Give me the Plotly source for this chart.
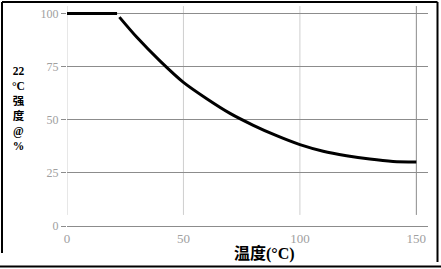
import plotly.graph_objects as go

# ---- data ----
temp_c = [0, 21.5, 22.5, 30, 40, 50, 60, 70, 80, 90, 100, 110, 120, 130, 140, 150]
strength_pct = [100, 100, 98.3, 88.8, 77.6, 67.6, 59.9, 53.0, 47.4, 42.5, 38.3, 35.2, 33.1, 31.5, 30.4, 30.1]
x_ticks = [0, 50, 100, 150]
y_ticks = [0, 25, 50, 75, 100]
x_title = "温度(°C)"
y_title_lines = ["22", "°C", "强", "度", "@", "%"]

W, H = 441, 269
ML, MR, MT, MB = 67, 13, 5, 43
PW, PH = W - ML - MR, H - MT - MB


def px(x):
    return (x - ML) / PW


def py(y):
    return (H - MB - y) / PH


SERIF = "Liberation Serif, Times New Roman, Noto Sans CJK SC, serif"

fig = go.Figure()
# flat plateau, then the smooth decay curve
fig.add_trace(go.Scatter(x=temp_c[:2], y=strength_pct[:2], mode="lines",
                         line=dict(color="black", width=3), showlegend=False,
                         hoverinfo="skip"))
fig.add_trace(go.Scatter(x=temp_c[2:], y=strength_pct[2:], mode="lines",
                         line=dict(color="black", width=3, shape="spline", smoothing=0.8),
                         showlegend=False, hoverinfo="skip"))

shapes = []
# vertical grid lines (do not reach the bottom axis)
for xv in x_ticks:
    col = "#8c8c8c" if xv == x_ticks[-1] else "#cfcfcf"
    shapes.append(dict(type="line", xref="x", yref="y", x0=xv, x1=xv, y0=5.2, y1=103.5,
                       line=dict(color=col, width=1), layer="below"))
# outer frame
frame = dict(color="black", width=2)
shapes += [
    dict(type="line", xref="paper", yref="paper", x0=px(2), x1=px(2), y0=py(2), y1=py(253), line=frame),
    dict(type="line", xref="paper", yref="paper", x0=px(2), x1=px(437.5), y0=py(2), y1=py(2), line=frame),
    dict(type="line", xref="paper", yref="paper", x0=px(437.5), x1=px(437.5), y0=py(2), y1=py(262), line=frame),
    dict(type="line", xref="paper", yref="paper", x0=px(0), x1=px(441), y0=py(266.5), y1=py(266.5), line=frame),
]

annotations = [
    dict(text=f"<b>{x_title}</b>", xref="paper", yref="paper", x=px(264), y=py(253),
         showarrow=False, xanchor="center", yanchor="middle",
         font=dict(family=SERIF, size=16, color="black")),
    dict(text="<b>" + "<br>".join(y_title_lines) + "</b>", xref="paper", yref="paper",
         x=px(18), y=py(108.5), showarrow=False, xanchor="center", yanchor="middle",
         align="center", borderpad=0,
         font=dict(family=SERIF, size=11.5, color="black")),
]

fig.update_layout(
    width=W, height=H,
    margin=dict(l=ML, r=MR, t=MT, b=MB, pad=0),
    paper_bgcolor="white", plot_bgcolor="white",
    shapes=shapes, annotations=annotations,
    xaxis=dict(range=[0, 155], tickvals=x_ticks, showgrid=False, zeroline=False,
               showline=True, linecolor="#8c8c8c", linewidth=1, ticks="",
               tickfont=dict(family=SERIF, size=13, color="#a0a0a0"), fixedrange=True),
    yaxis=dict(range=[0, 104], tickvals=y_ticks, showgrid=True, gridcolor="#8c8c8c", gridwidth=1,
               zeroline=False, showline=False, ticks="outside", ticklen=5, tickcolor="#8c8c8c",
               tickfont=dict(family=SERIF, size=12, color="#a0a0a0"), fixedrange=True),
)

fig.write_html("out.html")
